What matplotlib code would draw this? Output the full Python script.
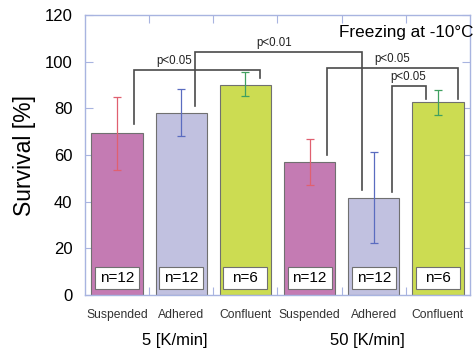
import matplotlib
matplotlib.use("Agg")
import matplotlib.pyplot as plt
from matplotlib.patches import Rectangle
import matplotlib.transforms as mtransforms

plt.rcParams['font.family'] = ['Liberation Sans', 'DejaVu Sans']

categories = ["Suspended", "Adhered", "Confluent", "Suspended", "Adhered", "Confluent"]
groups = ["5 [K/min]", "50 [K/min]"]
means = [69.4, 78.1, 90.1, 56.9, 41.4, 82.6]
err_hi = [85.0, 88.4, 95.6, 66.7, 61.1, 88.0]
err_lo = [53.7, 68.0, 85.1, 47.1, 22.1, 77.0]
n_labels = ["n=12", "n=12", "n=6", "n=12", "n=12", "n=6"]
# brackets: (x_left, y_left_end, y_top, x_right, y_right_end, label, label_x)
brackets = [
    (0.264, 73.4, 96.6, 2.227, 92.9, "p<0.05", 0.887),
    (1.214, 81.0, 104.3, 3.817, 45.0, "p<0.01", 2.445),
    (3.271, 60.0, 97.4, 5.313, 83.9, "p<0.05", 4.284),
    (4.284, 44.0, 89.6, 4.814, 83.9, "p<0.05", 4.534),
]

bar_colors = ["#C47BB3", "#C1C1E0", "#CCDC52"] * 2
err_colors = ["#E06070", "#5A6CC0", "#40A060"] * 2
spine_col = "#A8B4E0"

fig = plt.figure(figsize=(4.75, 3.52), dpi=100)
ax = fig.add_axes([85/475, 57/352, 385/475, 280/352])

x = list(range(len(categories)))
ax.bar(x, means, width=0.8, color=bar_colors, edgecolor="#707070", linewidth=0.8, zorder=2)
for i in x:
    ax.errorbar(i, means[i], yerr=[[means[i] - err_lo[i]], [err_hi[i] - means[i]]],
                fmt="none", ecolor=err_colors[i], elinewidth=0.9, capsize=2.8, capthick=0.9, zorder=3)
    ax.add_patch(Rectangle((i - 0.343, 2.6), 0.686, 9.4, facecolor="white",
                           edgecolor="#707070", linewidth=0.8, zorder=4))
    ax.text(i, 7.3, n_labels[i], ha="center", va="center", fontsize=11, zorder=5)

for (xl, yl, yt, xr, yr, lab, lx) in brackets:
    ax.plot([xl, xl, xr, xr], [yl, yt, yt, yr], color="#4a4a4a", linewidth=1.2,
            solid_joinstyle="miter", zorder=6)
    ax.text(lx, yt + 1.3, lab, ha="center", va="bottom", fontsize=8.3, color="#222222", zorder=6)

ax.text(1.01, 0.965, "Freezing at -10°C", transform=ax.transAxes, ha="right", va="top",
        fontsize=12.3, clip_on=False)

ax.set_xlim(-0.5, 5.5)
ax.set_ylim(0, 120)
ax.set_yticks([0, 20, 40, 60, 80, 100, 120])
ax.set_xticks([0.5, 1.5, 2.5, 3.5, 4.5])
ax.set_xticklabels([])
ax.set_xticks(x, minor=True)
ax.set_xticklabels(categories, minor=True, fontsize=8.7, color="#333333")
ax.tick_params(axis="x", which="minor", length=0, pad=10)
ax.tick_params(axis="x", which="major", direction="in", length=6, color=spine_col,
               top=True, bottom=True)
ax.tick_params(axis="y", direction="in", length=6, color=spine_col, left=True, right=True,
               labelsize=12, pad=9)
for s in ax.spines.values():
    s.set_color(spine_col)
    s.set_linewidth(1.0)

ax.set_ylabel("Survival [%]", fontsize=16.5, labelpad=6)

trans = mtransforms.blended_transform_factory(ax.transData, fig.transFigure)
ax.text(1.0 - 0.1, 12/352, groups[0], transform=trans, ha="center", va="center", fontsize=12)
ax.text(4.0 - 0.1, 12/352, groups[1], transform=trans, ha="center", va="center", fontsize=12)

fig.savefig("out.png", dpi=100)
